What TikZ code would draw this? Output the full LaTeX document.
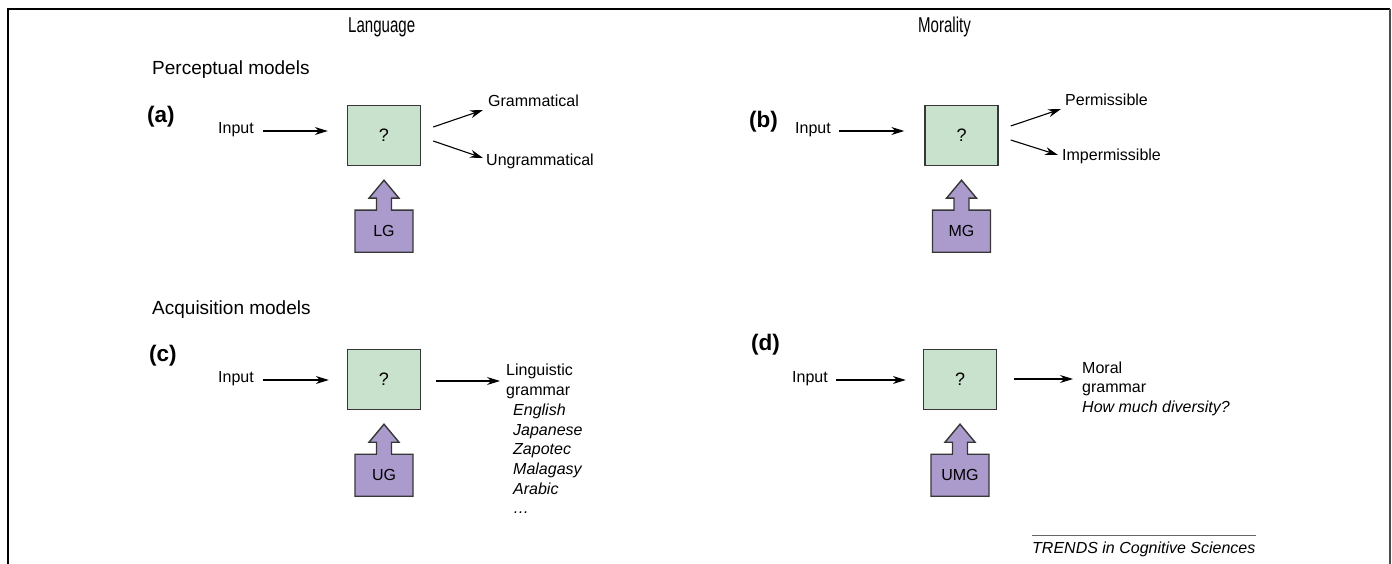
\documentclass[tikz,border=0pt]{standalone}
\usepackage{fontspec}
\setmainfont{Liberation Sans}
\usetikzlibrary{arrows.meta,calc}
\definecolor{boxgreen}{RGB}{200,226,206}
\definecolor{boxpurple}{RGB}{170,155,204}
\definecolor{edgegray}{RGB}{55,55,55}

\begin{document}
\begin{tikzpicture}[x=1pt,y=-1pt,
  txt/.style={inner sep=0pt, font=\fontsize{16}{19}\selectfont},
  head/.style={inner sep=0pt, font=\fontsize{21.5}{25}\selectfont},
  sect/.style={inner sep=0pt, font=\fontsize{19}{23}\selectfont},
  tag/.style={inner sep=0pt, font=\fontsize{22.5}{26}\selectfont\bfseries},
  qbox/.style={draw=edgegray, line width=1.4pt, fill=boxgreen, minimum width=73pt,
    minimum height=60pt, inner sep=0pt, font=\fontsize{18}{22}\selectfont},
  gbox/.style={draw=edgegray, line width=1.4pt, fill=boxpurple, line join=miter},
  arr/.style={line width=1.1pt, -{Stealth[length=13pt,width=8pt]}},
]
\useasboundingbox (0,0) rectangle (1392,564);

% frame, open at the bottom
\draw[line width=2pt] (8,564) -- (8,9) -- (1390,9);
\draw[line width=2.5pt, black!70] (1390,9) -- (1390,564);

% column headings (condensed) and row headings
\node[head, anchor=mid west] (lang) at (348,30) {\scalebox{0.7}[1]{Language}};
\node[head, anchor=mid west] (moral) at (918,30) {\scalebox{0.7}[1]{Morality}};
\node[sect, anchor=mid west] (perc) at (152,72) {Perceptual models};
\node[sect, anchor=mid west] (acq) at (152,312) {Acquisition models};

% panel tags
\node[tag, anchor=mid west] (tagA) at (147,120) {(a)};
\node[tag, anchor=mid west] (tagB) at (749,125) {(b)};
\node[tag, anchor=mid west] (tagC) at (149,359) {(c)};
\node[tag, anchor=mid west] (tagD) at (751,348) {(d)};

% the grammar block under a box: arrow pointing up into the box
\newcommand\grammarblock[1]{%
  \begin{scope}[shift={(#1.south)}]
    \draw[gbox] (-29,86) -- (-29,44) -- (-7.5,44) -- (-7.5,32) -- (-15,32) -- (0,14)
      -- (15,32) -- (7.5,32) -- (7.5,44) -- (29,44) -- (29,86) -- cycle;
  \end{scope}}

% (a) language, perception
\node[qbox] (boxA) at (384,135.5) {?};
\node[txt, anchor=mid west] (inA) at (218,131) {Input};
\draw[arr, shorten <=9pt, shorten >=19pt] (inA.mid east) -- (inA.mid east -| boxA.west);
\node[txt, anchor=mid west] (gram) at (488,104) {Grammatical};
\node[txt, anchor=mid west] (ungram) at (486,163) {Ungrammatical};
\draw[arr] ($(boxA.east)+(12,-8.5)$) -- ($(gram.mid west)+(-5,6)$);
\draw[arr] ($(boxA.east)+(12,5.5)$) -- ($(ungram.mid west)+(-3,-5)$);
\grammarblock{boxA}
\node[txt] (lg) at ($(boxA.south)+(0,65)$) {LG};

% (b) morality, perception
\node[qbox] (boxB) at (961.5,135.5) {?};
\node[txt, anchor=mid west] (inB) at (795,131) {Input};
\draw[arr, shorten <=8pt, shorten >=20pt] (inB.mid east) -- (inB.mid east -| boxB.west);
\node[txt, anchor=mid west] (perm) at (1065,103) {Permissible};
\node[txt, anchor=mid west] (imperm) at (1062,158) {Impermissible};
\draw[arr] ($(boxB.east)+(12,-9.5)$) -- ($(perm.mid west)+(-4,6)$);
\draw[arr] ($(boxB.east)+(12,4.5)$) -- ($(imperm.mid west)+(-4,-3)$);
\grammarblock{boxB}
\node[txt] (mg) at ($(boxB.south)+(0,65)$) {MG};

% (c) language, acquisition
\node[qbox] (boxC) at (384,379.5) {?};
\node[txt, anchor=mid west] (inC) at (218,380) {Input};
\draw[arr, shorten <=9pt, shorten >=18pt] (inC.mid east) -- (inC.mid east -| boxC.west);
\node[txt, anchor=west, align=left, font=\fontsize{16}{20}\selectfont] (lingC) at (506,381)
  {Linguistic\\grammar};
\draw[arr, shorten <=15pt, shorten >=6pt] (boxC.east |- lingC.west) -- (lingC.west);
\foreach \w [count=\i] in {English,Japanese,Zapotec,Malagasy,Arabic,\dots}
  \node[txt, anchor=mid west, font=\fontsize{16}{19}\selectfont\itshape] (lang\i)
    at (513,393.5+19.6*\i) {\w};
\grammarblock{boxC}
\node[txt] (ug) at ($(boxC.south)+(0,65)$) {UG};

% (d) morality, acquisition
\node[qbox] (boxD) at (960,379.5) {?};
\node[txt, anchor=mid west] (inD) at (792,380) {Input};
\draw[arr, shorten <=8pt, shorten >=17pt] (inD.mid east) -- (inD.mid east -| boxD.west);
\node[txt, anchor=west, align=left, font=\fontsize{16}{19}\selectfont] (moralD) at (1082,379)
  {Moral\\grammar};
\draw[arr, shorten <=17pt, shorten >=9pt] (boxD.east |- moralD.west) -- (moralD.west);
\node[txt, anchor=mid west, font=\fontsize{16}{19}\selectfont\itshape] (divD) at (1082,410)
  {How much diversity?};
\grammarblock{boxD}
\node[txt] (umg) at ($(boxD.south)+(0,65)$) {UMG};

% journal credit
\node[txt, anchor=mid west, font=\fontsize{16}{19}\selectfont\itshape] (trends) at (1032,551)
  {TRENDS in Cognitive Sciences};
\draw[line width=0.8pt, black!60] ($(trends.north west)+(0,-6)$) -- ($(trends.north east)+(0,-6)$);
\end{tikzpicture}
\end{document}
